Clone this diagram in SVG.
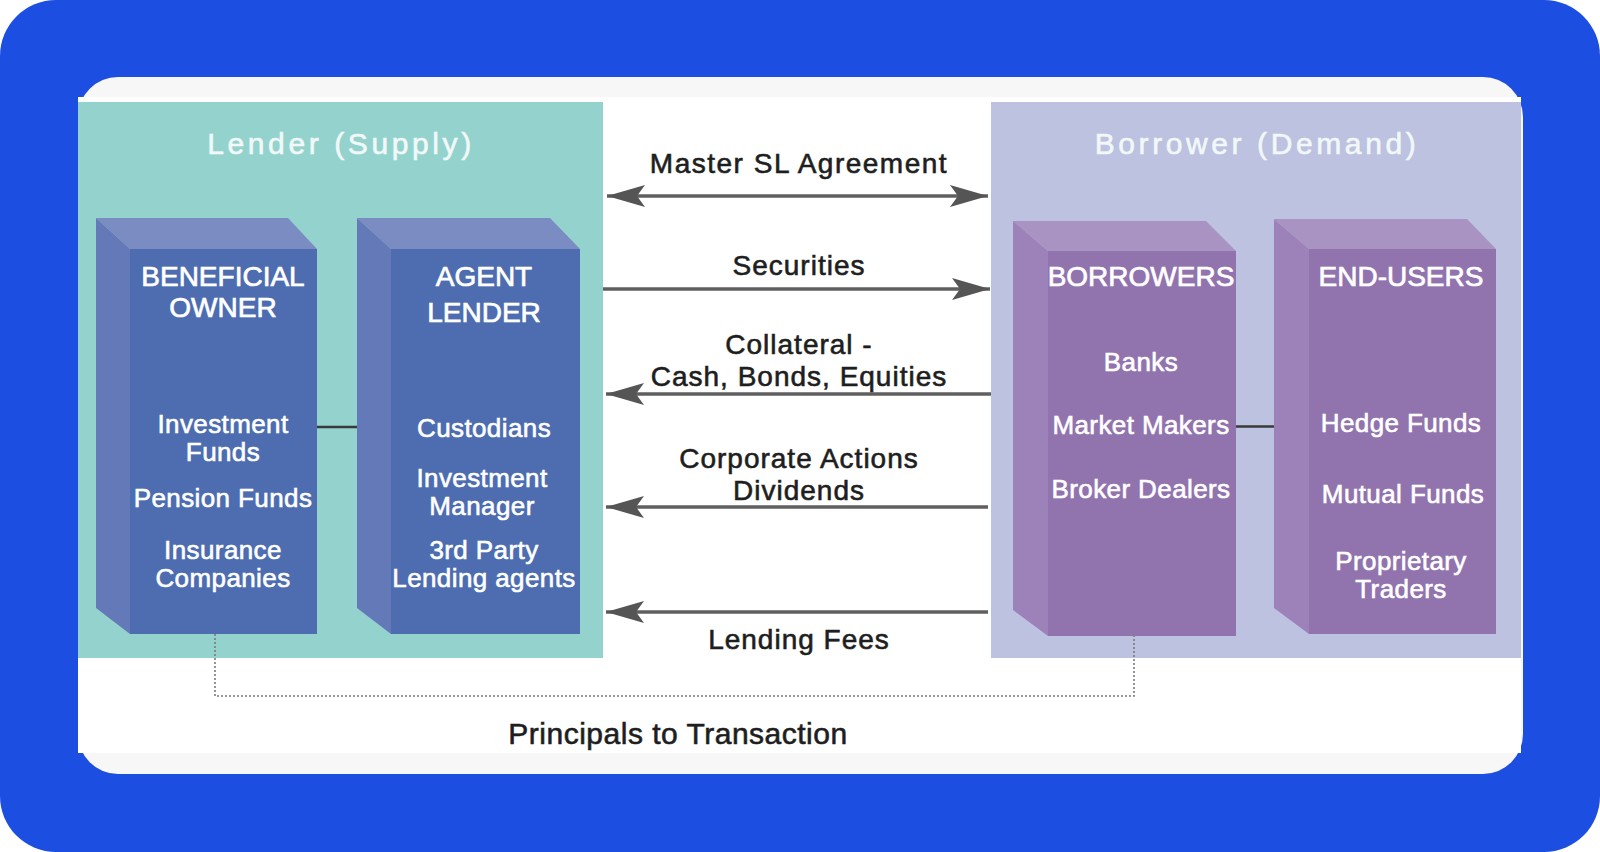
<svg xmlns="http://www.w3.org/2000/svg" width="1600" height="852" viewBox="0 0 1600 852">
<defs>
<style>
.t{font-family:"Liberation Sans",Arial,sans-serif;text-anchor:middle}
.title{font-size:30px;fill:#f2f8f8;stroke:#f2f8f8;stroke-width:0.6;letter-spacing:3.6px}
.hd{font-size:28px;fill:#ffffff;stroke:#ffffff;stroke-width:0.7}
.bd{font-size:26px;fill:#ffffff;stroke:#ffffff;stroke-width:0.6;letter-spacing:0.4px}
.lb{font-size:28px;fill:#1e1e1e;stroke:#1e1e1e;stroke-width:0.6;letter-spacing:1px}
.arr{stroke:#5f5f5f;stroke-width:3.5;fill:none}
.dot{stroke:#7a7a7a;stroke-width:1.6;fill:none;stroke-dasharray:2 2}
.link{stroke:#3a3a3a;stroke-width:2.5}
.bf{fill:#4d6db0}.bt{fill:#7b8cc2}.bs{fill:#6379b8}
.pf{fill:#9174ae}.pt{fill:#a993c3}.ps{fill:#9d82ba}
</style>
<marker id="ah" viewBox="-40 -12 42 24" refX="0" refY="0" markerWidth="42" markerHeight="24" markerUnits="userSpaceOnUse" orient="auto-start-reverse">
<path d="M0,0 L-38,-11 L-30,0 L-38,11 Z" fill="#555555"/>
</marker>
</defs>
<rect x="0" y="0" width="1600" height="852" fill="#ffffff"/>
<rect x="0" y="0" width="1600" height="852" rx="56" fill="#1d4ee2"/>
<rect x="78" y="77" width="1445" height="697" rx="40" fill="#f7f7f7"/>
<rect x="78" y="97" width="1443" height="656" fill="#ffffff"/>

<g id="lender-panel">
<rect x="78" y="102" width="525" height="556" fill="#94d3cd"/>
<text class="t title" x="341" y="154">Lender (Supply)</text>
</g>
<g id="borrower-panel">
<rect x="991" y="102" width="530" height="556" fill="#bcc2e0"/>
<text class="t title" x="1257" y="154">Borrower (Demand)</text>
</g>

<g id="connectors">
<line class="link" x1="317" y1="427" x2="357" y2="427"/>
<line class="link" x1="1236" y1="426.5" x2="1274" y2="426.5"/>
<line class="arr" x1="607" y1="196" x2="988" y2="196" marker-start="url(#ah)" marker-end="url(#ah)"/>
<line class="arr" x1="603" y1="289" x2="990" y2="289" marker-end="url(#ah)"/>
<line class="arr" x1="991" y1="394" x2="606" y2="394" marker-end="url(#ah)"/>
<line class="arr" x1="988" y1="507" x2="606" y2="507" marker-end="url(#ah)"/>
<line class="arr" x1="988" y1="612" x2="606" y2="612" marker-end="url(#ah)"/>
<polyline class="dot" points="215,634 215,696 1134,696 1134,636"/>
<text class="t lb" x="799" y="173" style="letter-spacing:1.5px">Master SL Agreement</text>
<text class="t lb" x="799" y="275">Securities</text>
<text class="t lb" x="799" y="354">Collateral -</text>
<text class="t lb" x="799" y="385.5">Cash, Bonds, Equities</text>
<text class="t lb" x="799" y="468">Corporate Actions</text>
<text class="t lb" x="799" y="500">Dividends</text>
<text class="t lb" x="799" y="649">Lending Fees</text>
<text class="t lb" x="678" y="744" style="font-size:30px;letter-spacing:0.5px">Principals to Transaction</text>
</g>

<g id="beneficial-owner">
<polygon class="bt" points="96,218 288,218 317,249 130,249"/>
<polygon class="bs" points="96,218 130,249 130,634 96,608"/>
<rect class="bf" x="130" y="249" width="187" height="385"/>
<text class="t hd" x="223" y="285.5">BENEFICIAL</text>
<text class="t hd" x="223" y="317">OWNER</text>
<text class="t bd" x="223" y="433">Investment</text>
<text class="t bd" x="223" y="460.5">Funds</text>
<text class="t bd" x="223" y="506.5">Pension Funds</text>
<text class="t bd" x="223" y="558.5">Insurance</text>
<text class="t bd" x="223" y="586.5">Companies</text>
</g>

<g id="agent-lender">
<polygon class="bt" points="357,218 550,218 580,249 391,249"/>
<polygon class="bs" points="357,218 391,249 391,634 357,608"/>
<rect class="bf" x="391" y="249" width="189" height="385"/>
<text class="t hd" x="484" y="285.5">AGENT</text>
<text class="t hd" x="484" y="322">LENDER</text>
<text class="t bd" x="484" y="437">Custodians</text>
<text class="t bd" x="482" y="486.5">Investment</text>
<text class="t bd" x="482" y="514.5">Manager</text>
<text class="t bd" x="484" y="558.5">3rd Party</text>
<text class="t bd" x="484" y="586.5">Lending agents</text>
</g>

<g id="borrowers">
<polygon class="pt" points="1013,221 1206,221 1236,251 1048,251"/>
<polygon class="ps" points="1013,221 1048,251 1048,636 1013,610"/>
<rect class="pf" x="1048" y="251" width="188" height="385"/>
<text class="t hd" x="1141" y="285.5">BORROWERS</text>
<text class="t bd" x="1141" y="370.5">Banks</text>
<text class="t bd" x="1141" y="434">Market Makers</text>
<text class="t bd" x="1141" y="497.5">Broker Dealers</text>
</g>

<g id="end-users">
<polygon class="pt" points="1274,219 1467,219 1496,249 1309,249"/>
<polygon class="ps" points="1274,219 1309,249 1309,634 1274,608"/>
<rect class="pf" x="1309" y="249" width="187" height="385"/>
<text class="t hd" x="1401" y="285.5">END-USERS</text>
<text class="t bd" x="1401" y="432">Hedge Funds</text>
<text class="t bd" x="1403" y="502.5">Mutual Funds</text>
<text class="t bd" x="1401" y="569.5">Proprietary</text>
<text class="t bd" x="1401" y="597.5">Traders</text>
</g>
</svg>
